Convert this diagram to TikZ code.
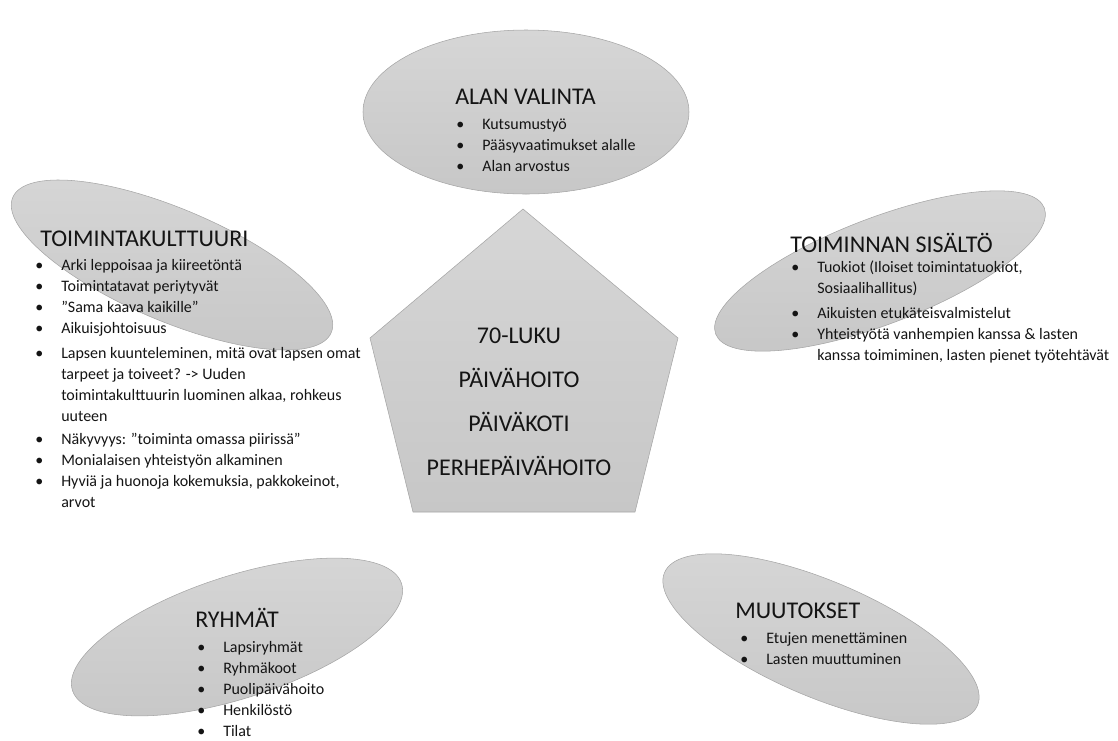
\documentclass[tikz,border=0pt]{standalone}
\usepackage{fontspec}
\setmainfont{Carlito}
\usetikzlibrary{shapes.geometric}
\definecolor{kuplaYla}{RGB}{214,214,214}
\definecolor{kuplaAla}{RGB}{199,199,199}
\definecolor{reuna}{RGB}{165,165,165}
\definecolor{teksti}{RGB}{20,20,20}
\newcommand{\kohta}{\llap{•\hspace{13.5pt}}}

\begin{document}
\begin{tikzpicture}[x=0.75pt,y=-0.75pt,
    kupla/.style={ellipse, draw=reuna, top color=kuplaYla, bottom color=kuplaAla, inner sep=0pt},
    otsikko/.style={anchor=base west, inner sep=0pt, text=teksti, font=\fontsize{18}{21}\selectfont},
    lista/.style={anchor=base west, inner sep=0pt, text=teksti, font=\fontsize{12}{15.75}\selectfont}]
\useasboundingbox (0,0) rectangle (1118,740);

% kuplat
\node[kupla, minimum width=244.5pt, minimum height=123pt] (valinta) at (526,112) {};
\node[kupla, minimum width=259.5pt, minimum height=84pt, rotate=-23] (kulttuuri) at (172,265) {};
\node[kupla, minimum width=264pt, minimum height=79.5pt, rotate=21] (sisalto) at (880,271) {};
\node[kupla, minimum width=259.5pt, minimum height=91.5pt, rotate=18] (ryhmat) at (237,637) {};
\node[kupla, minimum width=255pt, minimum height=87pt, rotate=-23] (muutokset) at (821,639) {};

% viisikulmio
\coordinate (k1) at (523,209);
\coordinate (k2) at (678,338);
\coordinate (k3) at (635,512);
\coordinate (k4) at (413,512);
\coordinate (k5) at (370,338);
\shade[draw=reuna, top color=kuplaYla, bottom color=kuplaAla] (k1) -- (k2) -- (k3) -- (k4) -- (k5) -- cycle;
\node[anchor=base, inner sep=0pt, text=teksti, font=\fontsize{18}{33.2}\selectfont] (kausi) at (519,343)
    {\begin{tabular}[t]{@{}c@{}}70-LUKU\\PÄIVÄHOITO\\PÄIVÄKOTI\\PERHEPÄIVÄHOITO\end{tabular}};

% tekstit
\node[otsikko] (valintaOts) at (455,104) {ALAN VALINTA};
\node[lista] (valintaLista) at (482,129) {\begin{tabular}[t]{@{}l@{}}
    \kohta Kutsumustyö\\
    \kohta Pääsyvaatimukset alalle\\
    \kohta Alan arvostus
  \end{tabular}};

\node[otsikko] (kulttuuriOts) at (40,246) {TOIMINTAKULTTUURI};
\node[lista] (kulttuuriLista) at (61,270) {\begin{tabular}[t]{@{}l@{}}
    \kohta Arki leppoisaa ja kiireetöntä\\
    \kohta Toimintatavat periytyvät\\
    \kohta ”Sama kaava kaikille”\\
    \kohta Aikuisjohtoisuus\\[3pt]
    \kohta Lapsen kuunteleminen, mitä ovat lapsen omat\\
    tarpeet ja toiveet? -> Uuden\\
    toimintakulttuurin luominen alkaa, rohkeus\\
    uuteen\\[2pt]
    \kohta Näkyvyys: ”toiminta omassa piirissä”\\
    \kohta Monialaisen yhteistyön alkaminen\\
    \kohta Hyviä ja huonoja kokemuksia, pakkokeinot,\\
    arvot
  \end{tabular}};

\node[otsikko] (sisaltoOts) at (790,252) {TOIMINNAN SISÄLTÖ};
\node[lista] (sisaltoLista) at (817,272) {\begin{tabular}[t]{@{}l@{}}
    \kohta Tuokiot (Iloiset toimintatuokiot,\\
    Sosiaalihallitus)\\[3pt]
    \kohta Aikuisten etukäteisvalmistelut\\
    \kohta Yhteistyötä vanhempien kanssa \& lasten\\
    kanssa toimiminen, lasten pienet työtehtävät
  \end{tabular}};

\node[otsikko] (ryhmatOts) at (195,627) {RYHMÄT};
\node[lista] (ryhmatLista) at (223,652) {\begin{tabular}[t]{@{}l@{}}
    \kohta Lapsiryhmät\\
    \kohta Ryhmäkoot\\
    \kohta Puolipäivähoito\\
    \kohta Henkilöstö\\
    \kohta Tilat
  \end{tabular}};

\node[otsikko] (muutoksetOts) at (735,618) {MUUTOKSET};
\node[lista] (muutoksetLista) at (766,643) {\begin{tabular}[t]{@{}l@{}}
    \kohta Etujen menettäminen\\
    \kohta Lasten muuttuminen
  \end{tabular}};
\end{tikzpicture}
\end{document}
